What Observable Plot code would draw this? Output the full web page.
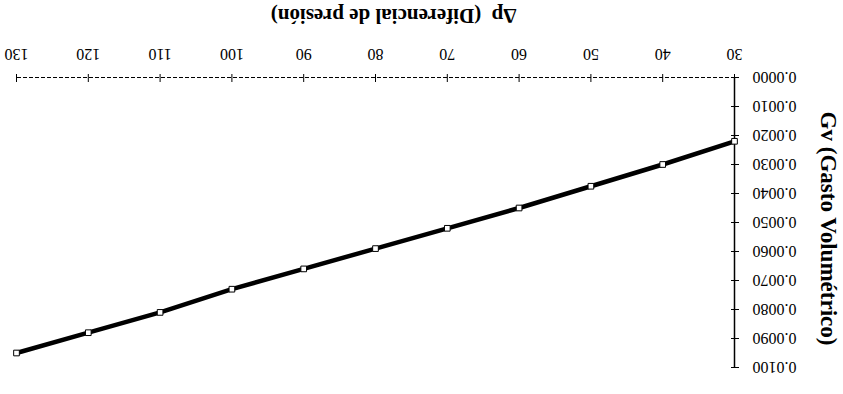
<!DOCTYPE html>
<html>
<head>
<meta charset="utf-8">
<script src="https://cdn.jsdelivr.net/npm/d3@7"></script>
<script src="https://cdn.jsdelivr.net/npm/@observablehq/plot@0.6"></script>
<style>
  html, body { margin: 0; padding: 0; background: #fff; }
  #chart { width: 843px; height: 394px; transform: rotate(180deg); transform-origin: 50% 50%; }
  #chart svg { display: block; }
</style>
</head>
<body>
<div id="chart"></div>
<script>
// Δp (pressure differential) and Gv (volumetric flow)
const deltaP = [30, 40, 50, 60, 70, 80, 90, 100, 110, 120, 130];
const gastoV = [0.0022, 0.0030, 0.00375, 0.0045, 0.0052, 0.0059, 0.0066, 0.0073, 0.0081, 0.0088, 0.0095];
const xTicks = [30, 40, 50, 60, 70, 80, 90, 100, 110, 120, 130];
const yTicks = [0, 0.001, 0.002, 0.003, 0.004, 0.005, 0.006, 0.007, 0.008, 0.009, 0.010];
const xTitle = "\u2206p  (Diferencial de presión)";
const yTitle = "Gv (Gasto Volumétrico)";

const data = deltaP.map((d, i) => ({dp: d, gv: gastoV[i]}));

const chart = Plot.plot({
  width: 843,
  height: 394,
  marginLeft: 108,
  marginRight: 17,
  marginTop: 26,
  marginBottom: 78,
  style: {fontFamily: "'Liberation Serif', 'Times New Roman', serif", fontSize: "16px", color: "#000", background: "#fff"},
  x: {domain: [30, 130]},
  y: {domain: [0, 0.01]},
  marks: [
    Plot.ruleY([0], {stroke: "#000", strokeWidth: 1, strokeDasharray: "4,2"}),
    Plot.ruleX([30], {stroke: "#000", strokeWidth: 1.5}),
    Plot.axisX({ticks: xTicks, tickSize: 8, dy: -4, text: null, label: null, stroke: "#000"}),
    Plot.axisX({ticks: xTicks, tickSize: 0, tickPadding: 17, tickFormat: d => String(d), fill: "#000", fontSize: 16, label: null}),
    Plot.axisY({ticks: yTicks, tickSize: 8, dx: 4, text: null, label: null, stroke: "#000"}),
    Plot.axisY({ticks: yTicks, tickSize: 0, tickPadding: 18, tickFormat: d3.format(".4f"), fill: "#000", fontSize: 16, label: null, style: {letterSpacing: "0.6px"}}),
    Plot.line(data, {x: "dp", y: "gv", stroke: "#000", strokeWidth: 4.5}),
    Plot.dot(data, {x: "dp", y: "gv", symbol: "square", r: 3.2, fill: "#fff", stroke: "#000", strokeWidth: 1}),
    Plot.text([xTitle], {frameAnchor: "bottom", dx: -18, dy: 62, text: d => d, fontSize: 21, fontWeight: "bold", fill: "#000", textAnchor: "middle", lineAnchor: "middle"}),
    Plot.text([yTitle], {frameAnchor: "left", dx: -94, dy: -6, text: d => d, rotate: -90, fontSize: 23, fontWeight: "bold", fill: "#000", textAnchor: "middle", lineAnchor: "middle"})
  ]
});
document.getElementById("chart").appendChild(chart);
</script>
</body>
</html>
